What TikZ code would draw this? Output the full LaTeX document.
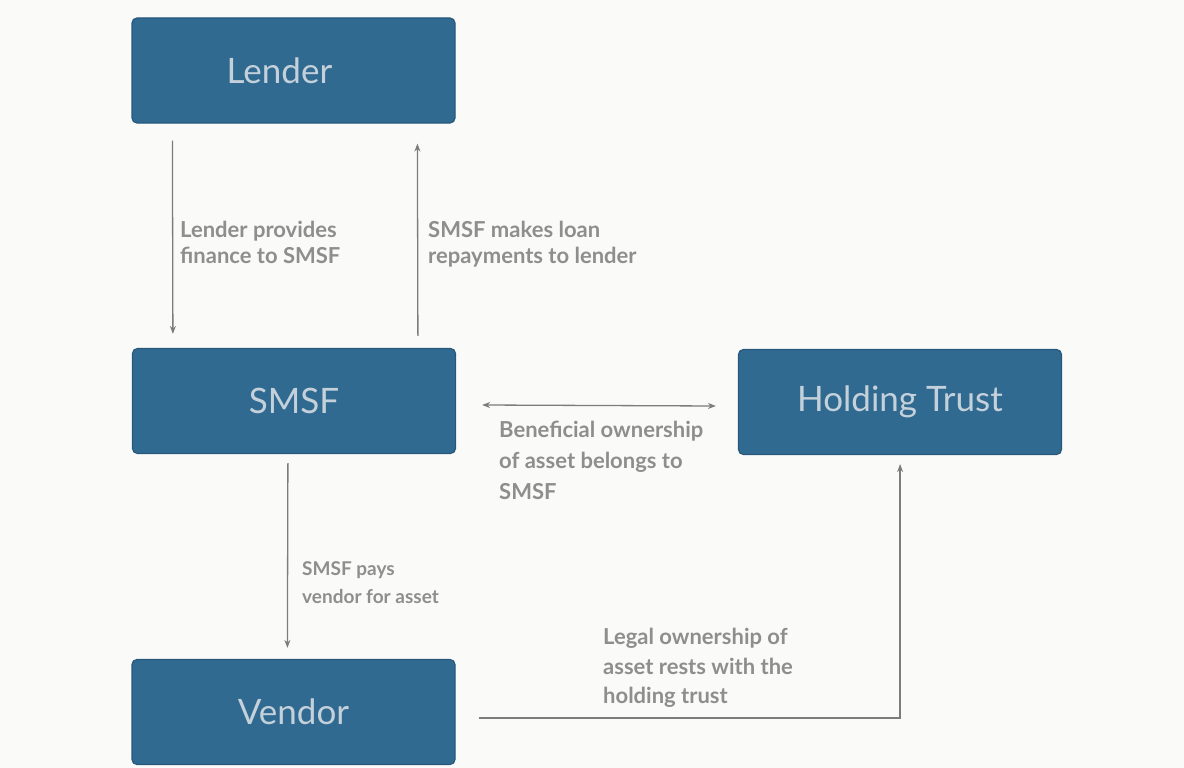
\documentclass[tikz,border=0pt]{standalone}
\usepackage{fontspec}
\setmainfont{Lato}
\usetikzlibrary{arrows.meta,calc}
\definecolor{boxblue}{HTML}{316A91}
\definecolor{boxedge}{HTML}{27587C}
\definecolor{boxtext}{HTML}{C4D0DA}
\definecolor{lbl}{HTML}{8E8E8E}
\definecolor{linec}{HTML}{7C7C7C}
\definecolor{bg}{HTML}{FAFAF8}
\tikzset{
  box/.style={draw=boxedge, line width=1.2pt, fill=boxblue, rounded corners=5pt,
    minimum width=323pt, minimum height=105pt, inner sep=0pt,
    text=boxtext, font=\fontsize{35}{40}\selectfont},
  lbl/.style={anchor=north west, align=left, text=lbl, inner sep=0pt,
    font=\fontsize{22}{28}\selectfont\bfseries},
  arr/.style={draw=linec, line width=1.3pt, -{Stealth[length=8pt,width=6pt]}},
  darr/.style={draw=linec, line width=1.3pt, {Stealth[length=8pt,width=6pt]}-{Stealth[length=8pt,width=6pt]}}
}
\begin{document}
\begin{tikzpicture}[x=1pt,y=-1pt]
\useasboundingbox (0,0) rectangle (1184,768);
\fill[bg] (0,0) rectangle (1184,768);
\clip (0,0) rectangle (1184,768);
\node[box] (lender) at (293.5,70.5) {Lender\hspace*{28pt}};
\node[box] (smsf) at (294,401) {SMSF};
\node[box] (holding) at (900,402) {Holding Trust};
\node[box] (vendor) at (293.5,712) {Vendor};

\draw[arr] ([shift={(41,17)}]lender.south west) -- ([shift={(41,-14)}]smsf.north west);
\draw[arr] ([shift={(286,-12)}]smsf.north west) -- ([shift={(286,20)}]lender.south west);
\draw[darr] ([shift={(26,4)}]smsf.east) -- ([shift={(-22,4)}]holding.west);
\draw[arr] ([shift={(156,9)}]smsf.south west) -- ([shift={(156,-11)}]vendor.north west);
\draw[arr] ([shift={(23,59)}]vendor.north east) -| ([shift={(-162,9)}]holding.south east);

\node[lbl, font=\fontsize{22}{26}\selectfont\bfseries] (l1) at (180,221) {Lender provides\\finance to SMSF};
\node[lbl, font=\fontsize{22}{26}\selectfont\bfseries] (l2) at (428,221) {SMSF makes loan\\repayments to lender};
\node[lbl, font=\fontsize{22}{31}\selectfont\bfseries] (l3) at (499,421) {Beneficial ownership\\of asset belongs to\\SMSF};
\node[lbl, font=\fontsize{19}{28}\selectfont\bfseries] (l4) at (302,561) {SMSF pays\\vendor for asset};
\node[lbl, font=\fontsize{22}{29.5}\selectfont\bfseries] (l5) at (603,628) {Legal ownership of\\asset rests with the\\holding trust};
\end{tikzpicture}
\end{document}
